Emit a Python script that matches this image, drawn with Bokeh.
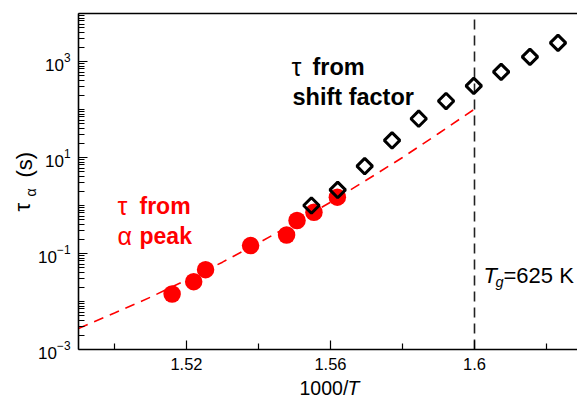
import numpy as np
from bokeh.plotting import figure
from bokeh.models import (Range1d, FixedTicker, LinearAxis, LogAxis, Label,
                          NumeralTickFormatter)
from bokeh.embed import file_html
from bokeh.resources import INLINE

# ---- data ----
alpha_x = [1.5160, 1.5220, 1.5253, 1.5378, 1.5478, 1.5507, 1.5554, 1.5619]
alpha_tau = [0.0143, 0.0259, 0.0461, 0.146, 0.243, 0.486, 0.724, 1.49]

shift_x = [1.5547, 1.5620, 1.5695, 1.5771, 1.5845, 1.5921, 1.5998, 1.6074, 1.6154, 1.6232]
shift_tau = [1.0, 2.11, 6.6, 22.7, 64.3, 150, 310, 607, 1248, 2443]

fit_x = [1.49, 1.50, 1.51, 1.52, 1.53, 1.54, 1.55, 1.56, 1.57, 1.58, 1.59, 1.60]
fit_tau = [2.75e-3, 5.75e-3, 1.23e-2, 2.82e-2, 6.6e-2, 0.166, 0.427, 1.17, 3.39, 10.0, 31.6, 102]

x_major = [1.52, 1.56, 1.6]
x_minor = [1.50, 1.54, 1.58, 1.62]
y_major = [1e-3, 1e-1, 1e1, 1e3]
Tg_x = 1.6

X0, Y0, Y1 = 1.49, 1e-3, 1e4          # axes box (data units)
W, H = 577, 397
PX_X = 3600.0                          # px per x unit
PX_DEC = 48.0                          # px per decade
AX_L, AX_B = 78, 349                   # canvas px of the axes corner

FONT = "Liberation Sans"
RED = "#ff0000"

xs = X0 - AX_L / PX_X
xe = X0 + (W - AX_L) / PX_X
ys = 10 ** (np.log10(Y0) - (H - AX_B) / PX_DEC)
ye = 10 ** (np.log10(Y1) + (AX_B - 7 * PX_DEC) / PX_DEC)

p = figure(width=W, height=H, output_backend="svg", toolbar_location=None,
           x_range=Range1d(xs, xe), y_range=Range1d(ys, ye),
           y_axis_type="log", x_axis_location=None, y_axis_location=None,
           min_border=0, min_border_left=0, min_border_right=0,
           min_border_top=0, min_border_bottom=0)
p.outline_line_color = None
p.grid.visible = False
p.background_fill_color = "white"
p.border_fill_color = "white"

y_minor = []
for k in range(-3, 4):
    for m in range(1, 10):
        v = m * 10.0 ** k
        if v not in y_major:
            y_minor.append(v)
y_minor.append(1e4)

ya = LogAxis(fixed_location=X0, bounds=(Y0, Y1),
             ticker=FixedTicker(ticks=y_major, minor_ticks=y_minor))
xa = LinearAxis(fixed_location=Y0, bounds=(X0, xe),
                ticker=FixedTicker(ticks=x_major, minor_ticks=x_minor),
                formatter=NumeralTickFormatter(format="0.0[0]"))

for ax in (xa, ya):
    ax.axis_line_width = 1.6
    ax.axis_line_color = "black"
    ax.major_tick_in = 9
    ax.major_tick_out = 0
    ax.minor_tick_in = 6
    ax.minor_tick_out = 0
    ax.major_tick_line_width = 1.2
    ax.minor_tick_line_width = 1.2
    ax.major_tick_line_color = "black"
    ax.minor_tick_line_color = "black"
    ax.major_label_text_font = FONT
    ax.major_label_text_color = "black"
    ax.major_label_standoff = 8
xa.major_label_text_font_size = "16.5px"
ya.major_label_text_font_size = "17px"

p.add_layout(ya, "left")
p.add_layout(xa, "below")

top = LinearAxis(fixed_location=Y1, bounds=(X0, xe), ticker=FixedTicker(ticks=[]),
                 major_label_text_font_size="0px", axis_line_width=1.6,
                 major_tick_line_color=None, minor_tick_line_color=None)
p.add_layout(top, "above")

# fit line and Tg line
p.line(fit_x, fit_tau, line_color=RED, line_width=1.6, line_dash="10 7")
p.line([Tg_x, Tg_x], [Y0, Y1], line_color="#222222", line_width=1.6, line_dash="10 6")

p.scatter(alpha_x, alpha_tau, marker="circle", size=17.5, fill_color=RED, line_color=None)
p.scatter(shift_x, shift_tau, marker="square", angle=np.pi / 4, size=11,
          fill_color=None, line_color="black", line_width=3)


def lab(text, cx, cy, size, color="black", style="normal", angle=0.0):
    p.add_layout(Label(x=cx, y=H - cy, x_units="screen", y_units="screen",
                       text=text, text_font=FONT, text_font_size=f"{size}px",
                       text_color=color, text_font_style=style, angle=angle,
                       text_align="left", text_baseline="alphabetic"))


# axis titles
lab("1000/", 299, 387, 19.5)
lab("T", 347, 387, 19.5, style="italic")
lab("τ", 22, 211, 22, angle=np.pi / 2)
lab("α", 30, 196, 14, angle=np.pi / 2)
lab("(s)", 24, 177, 22, angle=np.pi / 2)

# annotations
lab("τ", 117, 205, 25, color=RED)
lab("from", 139, 205, 23, color=RED, style="bold")
lab("α", 117, 235, 25, color=RED)
lab("peak", 139, 235, 23, color=RED, style="bold")

lab("τ", 291, 66, 25)
lab("from", 312, 66, 23.5, style="bold")
lab("shift factor", 292, 96, 23.5, style="bold")

lab("T", 483, 275, 22, style="italic")
lab("g", 495, 281, 14.5, style="italic")
lab("=625 K", 503, 275, 22)

open("out.html", "w").write(file_html(p, INLINE))
